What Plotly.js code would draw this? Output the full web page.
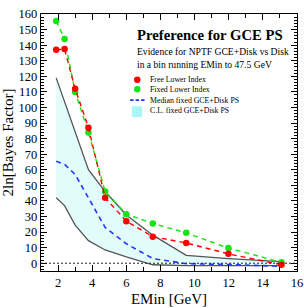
<!DOCTYPE html>
<html><head><meta charset="utf-8">
<script src="https://cdn.plot.ly/plotly-3.0.1.min.js"></script>
<style>html,body{margin:0;padding:0;background:#fff}#chart{width:304px;height:308px}</style>
</head><body><div id="chart"></div>
<script>
// EMin bin values (GeV)
const emin = [1.89, 2.38, 3.0, 3.78, 4.76, 6.0, 7.55, 9.51, 11.98, 15.09];
// 2ln[Bayes Factor]
const freeLower  = [137, 137.5, 112, 87, 42, 27, 17, 13, 6, -1];
const fixedLower = [155.5, 144, 110, 84, 46, 31.5, 25.5, 19.5, 9.7, 0.6];
const medianPS   = [65.5, 63.5, 57, 42, 23, 12.5, 3, -0.3, -0.8, -2];
const clUpper    = [119, 104, 85, 60, 46, 31, 18, 5, 3, 1];
const clLower    = [42, 37, 24.5, 14.5, 8.5, 4, -1, -1.5, -1.5, -1.5];

const legendLabels = ['Free Lower Index', 'Fixed Lower Index', 'Median fixed GCE+Disk PS', 'C.L. fixed GCE+Disk PS'];
const titleText = 'Preference for GCE PS';
const subLines = ['Evidence for NPTF GCE+Disk vs Disk', 'in a bin running EMin to 47.5 GeV'];

const FONT = 'Liberation Serif, Times New Roman, serif';
const RED = 'rgb(255,0,0)', GREEN = 'rgb(20,230,20)', BLUE = 'rgb(35,55,255)', GRAY = 'rgb(85,85,85)';
const BAND = 'rgb(226,251,251)', BANDKEY = 'rgb(170,246,246)';

const traces = [
  {x: emin, y: clLower, mode: 'lines', line: {color: GRAY, width: 1.3}, hoverinfo: 'skip'},
  {x: emin, y: clUpper, mode: 'lines', fill: 'tonexty', fillcolor: BAND, line: {color: GRAY, width: 1.3}, hoverinfo: 'skip'},
  {x: emin, y: medianPS, mode: 'lines', line: {color: BLUE, width: 1.6, dash: '5px,4px'}},
  {x: emin, y: fixedLower, mode: 'lines+markers', line: {color: GREEN, width: 1.4, dash: '5px,4px'}, marker: {color: GREEN, size: 6.5}},
  {x: emin, y: freeLower, mode: 'lines+markers', line: {color: RED, width: 1.4, dash: '5px,4px'}, marker: {color: RED, size: 6.5}}
];

const tx = 0.367, lx = 0.417;
const annotations = [
  {text: '<b>' + titleText + '</b>', x: tx, y: 0.918, font: {size: 14.7, color: '#000', family: FONT}},
  {text: subLines[0], x: tx, y: 0.856, font: {size: 9.6, color: '#000', family: FONT}},
  {text: subLines[1], x: tx, y: 0.803, font: {size: 9.6, color: '#000', family: FONT}}
];
const keyY = [0.744, 0.707, 0.665, 0.625];
legendLabels.forEach((t, i) => annotations.push({text: t, x: lx, y: keyY[i], font: {size: 7.8, color: '#000', family: FONT}}));
annotations.forEach(a => { a.xref = 'paper'; a.yref = 'paper'; a.xanchor = 'left'; a.yanchor = 'middle'; a.showarrow = false; });

const shapes = [
  {type: 'line', xref: 'paper', x0: 0, x1: 1, yref: 'y', y0: 0, y1: 0, line: {color: '#222', width: 1, dash: '2px,2px'}},
  {type: 'circle', xref: 'paper', yref: 'paper', xsizemode: 'pixel', ysizemode: 'pixel', xanchor: 0.376, yanchor: keyY[0], x0: -3.2, x1: 3.2, y0: -3.2, y1: 3.2, fillcolor: RED, line: {width: 0}},
  {type: 'circle', xref: 'paper', yref: 'paper', xsizemode: 'pixel', ysizemode: 'pixel', xanchor: 0.376, yanchor: keyY[1], x0: -3.2, x1: 3.2, y0: -3.2, y1: 3.2, fillcolor: GREEN, line: {width: 0}},
  {type: 'line', xref: 'paper', yref: 'paper', x0: 0.348, x1: 0.406, y0: keyY[2], y1: keyY[2], line: {color: BLUE, width: 1.6, dash: '3.5px,2px'}},
  {type: 'rect', xref: 'paper', yref: 'paper', x0: 0.355, x1: 0.395, y0: 0.599, y1: 0.641, fillcolor: BANDKEY, line: {width: 0}}
];

const axisCommon = {
  showgrid: false, zeroline: false, showline: true, linecolor: '#000', linewidth: 1.3, mirror: 'ticks',
  ticks: 'inside', tickcolor: '#000', tickwidth: 1, tickfont: {family: FONT, size: 12.5, color: '#000'}
};

const layout = {
  width: 304, height: 308,
  margin: {l: 41, r: 7, t: 14, b: 37},
  paper_bgcolor: '#fff', plot_bgcolor: '#fff',
  showlegend: false,
  font: {family: FONT, color: '#000'},
  xaxis: Object.assign({}, axisCommon, {
    range: [1, 16], dtick: 2, tick0: 0, ticklen: 6,
    minor: {dtick: 1, ticklen: 4, tickcolor: '#000', tickwidth: 1, ticks: 'inside'},
    title: {text: 'EMin [GeV]', font: {family: FONT, size: 15, color: '#000'}, standoff: 4}
  }),
  yaxis: Object.assign({}, axisCommon, {
    range: [-5, 160], dtick: 10, tick0: 0, ticklen: 6,
    minor: {dtick: 2, ticklen: 3, tickcolor: '#000', tickwidth: 1, ticks: 'inside'},
    title: {text: '2ln[Bayes Factor]', font: {family: FONT, size: 15, color: '#000'}, standoff: 3}
  }),
  annotations: annotations,
  shapes: shapes
};

Plotly.newPlot('chart', traces, layout, {displayModeBar: false, staticPlot: true});
</script></body></html>
